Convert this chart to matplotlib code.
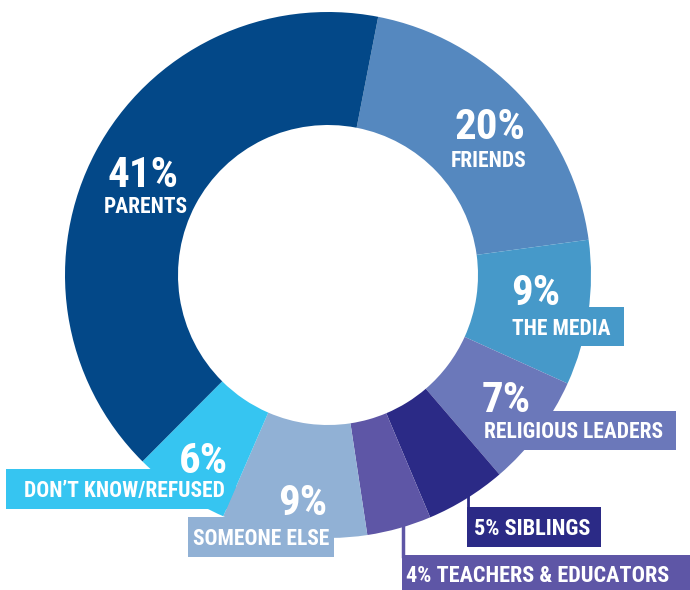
import matplotlib
matplotlib.use("Agg")
import matplotlib.pyplot as plt
from matplotlib import font_manager
from matplotlib.patches import Rectangle

# wedges in clockwise order, starting just right of 12 o'clock
labels = ["FRIENDS", "THE MEDIA", "RELIGIOUS LEADERS", "SIBLINGS",
          "TEACHERS & EDUCATORS", "SOMEONE ELSE", "DON\u2019T KNOW/REFUSED", "PARENTS"]
shares = [20, 9, 7, 5, 4, 9, 6, 41]
colors = ["#5588bf", "#4699c9", "#6b78ba", "#2b2a86",
          "#5e56a6", "#91b1d5", "#36c5f1", "#034888"]


def pick_font():
    for name in ["Liberation Sans Narrow", "Roboto Condensed", "Open Sans Condensed"]:
        try:
            font_manager.findfont(font_manager.FontProperties(family=name, weight="bold"),
                                  fallback_to_default=False)
            return name
        except ValueError:
            pass
    return "Roboto"


FONT = pick_font()

fig = plt.figure(figsize=(6.9, 5.9), dpi=100)
ax = fig.add_axes([0, 0, 1, 1])

# y axis is inverted (pixel coords), so counterclock=True draws clockwise on screen
ax.pie(shares, colors=colors, center=(328, 275), radius=263,
       startangle=-79, counterclock=True,
       wedgeprops=dict(width=113, linewidth=0, zorder=2))
ax.set_xlim(0, 690)
ax.set_ylim(590, 0)
ax.set_aspect("auto")
ax.axis("off")

share = dict(zip(labels, shares))
col = dict(zip(labels, colors))

# label boxes (sit under the ring)
boxes = {
    "THE MEDIA": (505, 307, 624, 346),
    "RELIGIOUS LEADERS": (478, 411, 676, 450),
    "SIBLINGS": (467, 507, 601, 547),
    "TEACHERS & EDUCATORS": (402, 555, 690, 590),
    "SOMEONE ELSE": (188, 517, 334, 557),
    "DON\u2019T KNOW/REFUSED": (6, 469, 236, 509),
}
for name, (x0, y0, x1, y1) in boxes.items():
    ax.add_patch(Rectangle((x0, y0), x1 - x0, y1 - y0, facecolor=col[name],
                           edgecolor="none", zorder=1))

# leader lines
ax.plot([468, 468], [470, 508], color=col["SIBLINGS"], lw=2, zorder=1)
ax.plot([403, 403], [500, 556], color=col["TEACHERS & EDUCATORS"], lw=2.5, zorder=1)


def txt(x, y, s, size):
    ax.text(x, y, s, ha="center", va="baseline", color="white", fontsize=size,
            fontweight="bold", family=[FONT, "DejaVu Sans"], zorder=4)


big = 31
small = 15.5
# percentage + name stacked
stacked = {
    "PARENTS": ((143, 187), (146, 213)),
    "FRIENDS": ((490, 139), (489, 167)),
    "THE MEDIA": ((536, 305), (561, 335)),
    "RELIGIOUS LEADERS": ((506, 412), (574, 438)),
    "DON\u2019T KNOW/REFUSED": ((203, 473), (124, 497)),
    "SOMEONE ELSE": ((303, 515), (261, 545)),
}
for name, ((px, py), (nx, ny)) in stacked.items():
    txt(px, py, f"{share[name]}%", big)
    txt(nx, ny, name, small)

# single-line labels
txt(532, 535, f"{share['SIBLINGS']}% SIBLINGS", 16)
txt(538, 582, f"{share['TEACHERS & EDUCATORS']}% TEACHERS & EDUCATORS", 16)

fig.savefig("out.png", dpi=100)
